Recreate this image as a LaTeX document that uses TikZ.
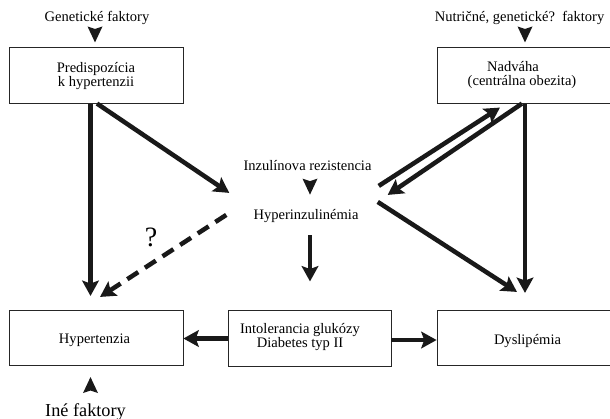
\documentclass[tikz,border=0pt]{standalone}
\usepackage{fontspec}
\setmainfont{Liberation Serif}
\usetikzlibrary{arrows.meta,calc}

\begin{document}
\begin{tikzpicture}[x=0.75pt,y=-0.75pt,
  box/.style={draw=black!85, line width=0.6pt, rectangle, inner sep=0pt,
              minimum width=130.5pt, minimum height=41.5pt},
  txt/.style={font=\fontsize{10.9}{10.5}\selectfont, inner sep=0pt, align=center},
  bigtxt/.style={font=\fontsize{13.7}{16}\selectfont, inner sep=0pt},
  conn/.style={line width=3.4pt, draw=black!90,
               -{Stealth[length=11.5pt,width=12.5pt,inset=2.2pt]}},
  dconn/.style={conn, dash pattern=on 9.75pt off 6pt},
  tri/.style={fill=black!90}]
\useasboundingbox (0,0) rectangle (610,418);

% boxes
\node[box] (pred)   at (96,75.5)   {};
\node[box] (nadv)   at (524,75.5)  {};
\node[box] (hypert) at (96,338)    {};
\node[box, minimum width=122.25pt] (intol) at (309.5,338.5) {};
\node[box] (dysl)   at (524,338)   {};

% texts
\node[txt] (predtext)  at (96,75.6)   {Predispozícia\\k hypertenzii};
\node[txt] (nadvtext)  at (522,75)    {Nadváha\hspace*{13.5pt}\\(centrálna obezita)};
\node[txt] (intoltext) at (300,336.6) {Intolerancia glukózy\\Diabetes typ II};
\node[txt, anchor=base] (hyperttext) at (94.5,343)  {Hypertenzia};
\node[txt, anchor=base] (dysltext)   at (527.5,344) {Dyslipémia};
\node[txt, anchor=base] (gen)        at (97,21.5)   {Genetické faktory};
\node[txt, anchor=base] (nutr)       at (519.5,21.5) {Nutričné, genetické?~~faktory};
\node[txt, anchor=base] (inzres)     at (307.5,170) {Inzulínova rezistencia};
\node[txt, anchor=base] (hyperinz)   at (306,219)   {Hyperinzulinémia};
\node[inner sep=0pt, font=\fontsize{21}{24}\selectfont] (q) at (151,237) {?};
\node[bigtxt, anchor=base] (ine)     at (85.5,416)  {Iné faktory};

% incoming factors (arrow heads only)
\fill[tri] ($(pred.north)+(-1,-5)$) -- ++(-7.5,-16) -- ++(7.5,2.5) -- ++(7.5,-2.5) -- cycle;
\fill[tri] ($(nadv.north)+(1,-5)$) -- ++(-7.5,-16) -- ++(7.5,2.5) -- ++(7.5,-2.5) -- cycle;
\fill[tri] ($(hyperinz.north)+(4,-14)$) -- ++(-7.5,-16) -- ++(7.5,2.5) -- ++(7.5,-2.5) -- cycle;
\fill[tri] ($(hypert.south)+(-5.5,11)$) -- ++(-7.5,16) -- ++(7.5,-2.5) -- ++(7.5,2.5) -- cycle;

% connections
\draw[conn] ($(pred.south)+(-5.5,0)$) -- ($(hypert.north)+(-5.5,-14)$);
\draw[conn] ($(pred.south)+(1,0)$) -- ($(hyperinz.west)+(-24,-22.6)$);
\draw[dconn] ($(hyperinz.west)+(-27,-0.6)$) -- ($(hypert.north)+(4,-13)$);
\draw[conn] ($(hyperinz.east)+(20,-29.6)$) -- ($(nadv.south)+(-24,4)$);
\draw[conn] ($(nadv.south)+(-2,0)$) -- ($(hyperinz.east)+(29,-20.6)$);
\draw[conn] ($(nadv.south)+(1,0)$) -- ($(dysl.north)+(1,-17)$);
\draw[conn] ($(hyperinz.east)+(19,-13.6)$) -- ($(dysl.north)+(-7,-18)$);
\draw[conn] ($(hyperinz.south)+(4,13)$) -- ($(intol.north)+(0.5,-29)$);
\draw[conn] (intol.west) -- (intol.west -| hypert.east);
\draw[conn] ($(intol.east)+(0,1.5)$) -- ($(intol.east -| dysl.west)+(0,1.5)$);
\end{tikzpicture}
\end{document}
